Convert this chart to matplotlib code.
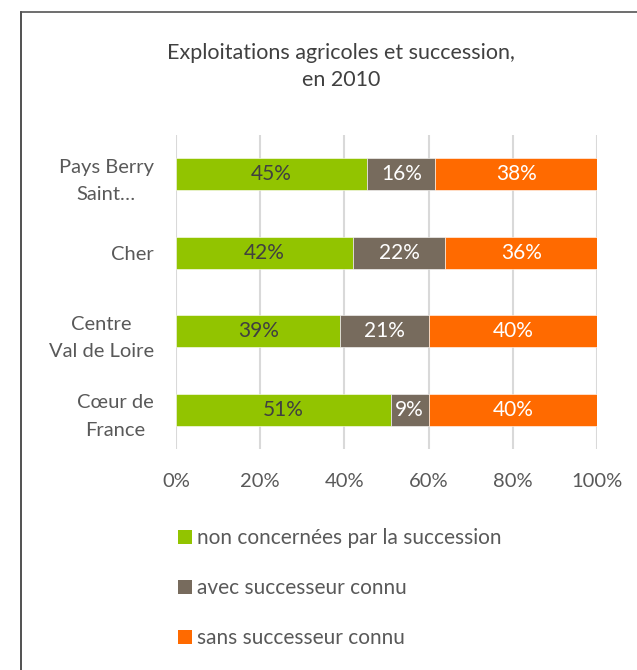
import numpy as np
import matplotlib
matplotlib.use("Agg")
import matplotlib.pyplot as plt
from matplotlib.lines import Line2D
from matplotlib.patches import Patch

# Data (percent values as printed on the bars)
categories = ["Pays Berry\nSaint…", "Cher", "Centre\nVal de Loire", "Cœur de\nFrance"]
non_concernees = [45, 42, 39, 51]
avec_successeur = [16, 22, 21, 9]
sans_successeur = [38, 36, 40, 40]
series_names = ["non concernées par la succession",
                "avec successeur connu",
                "sans successeur connu"]
x_ticks = [0, 20, 40, 60, 80, 100]

colors = ["#92C400", "#776B5D", "#FF6A00"]
label_colors = ["#404040", "white", "white"]
text_grey = "#595959"

plt.rcParams["font.family"] = ["Lato", "DejaVu Sans"]

fig = plt.figure(figsize=(6.37, 6.70), dpi=100)
ax = fig.add_axes([0.2763, 0.3299, 0.6609, 0.4687])

series = np.array([non_concernees, avec_successeur, sans_successeur], dtype=float)
shares = series / series.sum(axis=0) * 100  # 100% stacked
y = np.arange(len(categories))

left = np.zeros(len(categories))
for i in range(len(series)):
    ax.barh(y, shares[i], left=left, height=0.41, color=colors[i],
            edgecolor="white", linewidth=0.4, zorder=2)
    for j in range(len(categories)):
        ax.text(left[j] + shares[i][j] / 2, y[j], f"{int(series[i][j])}%",
                ha="center", va="center", fontsize=15, color=label_colors[i], zorder=3)
    left += shares[i]

ax.set_xlim(0, 100)
ax.set_ylim(len(categories) - 0.5, -0.5)
ax.set_xticks(x_ticks)
ax.set_xticklabels([f"{t}%" for t in x_ticks], fontsize=14.5, color=text_grey)
ax.set_yticks(y)
ax.set_yticklabels(categories, fontsize=14.5, color=text_grey, linespacing=1.75,
                   multialignment="center")
ax.tick_params(length=0, pad=16)
ax.tick_params(axis="x", pad=17)
ax.grid(axis="x", color="#D9D9D9", linewidth=1.5, zorder=0)
for s in ax.spines.values():
    s.set_visible(False)

fig.text(0.535, 0.901, "Exploitations agricoles et succession,\nen 2010",
         ha="center", va="center", fontsize=15.5, color="#404040", linespacing=1.4)

handles = [Patch(facecolor=c) for c in colors]
fig.legend(handles, series_names, loc="upper left", bbox_to_anchor=(0.25, 0.240),
           frameon=False, fontsize=15, labelcolor=text_grey, handlelength=0.65,
           handleheight=0.65, handletextpad=0.25, labelspacing=1.45)

# partial frame around the chart (top and left edges visible)
fig.add_artist(Line2D([21 / 637, 21 / 637], [0, 1 - 12 / 670], color="#333333", lw=1.2))
fig.add_artist(Line2D([21 / 637, 1], [1 - 12 / 670, 1 - 12 / 670], color="#555555", lw=1.2))

fig.savefig("out.png", dpi=100)
